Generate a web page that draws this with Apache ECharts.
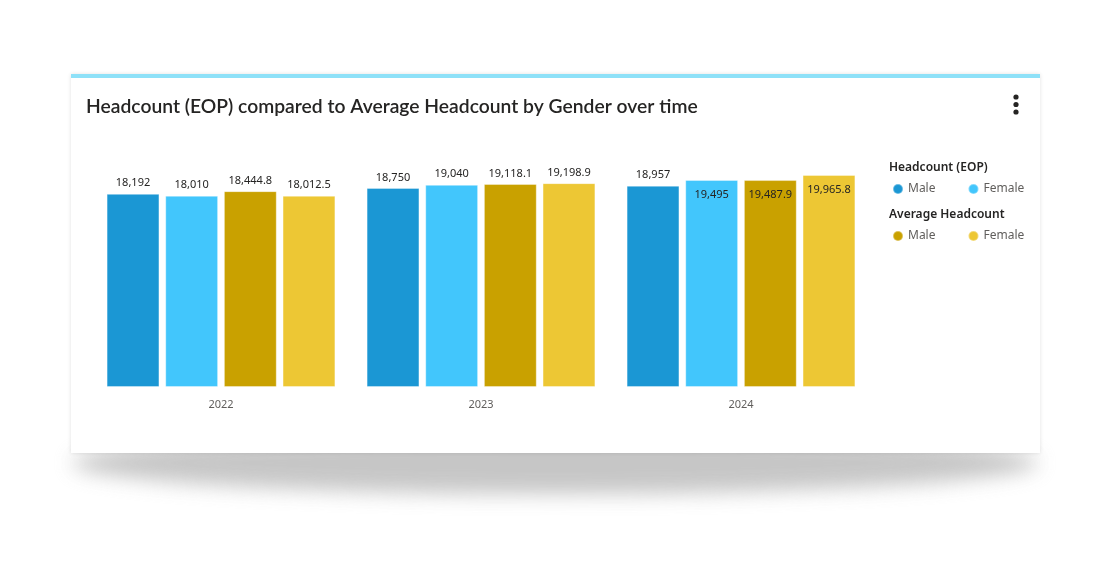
<!DOCTYPE html>
<html>
<head>
<meta charset="utf-8">
<script src="https://cdn.jsdelivr.net/npm/echarts@6/dist/echarts.min.js"></script>
<style>
  html, body { margin: 0; padding: 0; background: #ffffff; width: 1111px; height: 580px; overflow: hidden; }
  #shadow { position: absolute; left: 72px; top: 432px; width: 966px; height: 62px; border-radius: 50%;
            background: #bdbdbd; filter: blur(10px); opacity: 0.85; }
  #card { position: absolute; left: 71px; top: 74px; width: 969px; height: 379px; background: #ffffff;
          box-shadow: 0 0 4px rgba(0,0,0,0.12); border-top: 4px solid #8ee1f8; box-sizing: border-box; }
  #chart { position: absolute; left: 0; top: 0; width: 1111px; height: 580px; }
</style>
</head>
<body>
<div id="shadow"></div>
<div id="card"></div>
<div id="chart"></div>
<script>
const categories = ['2022', '2023', '2024'];
const eopMale = [18192, 18750, 18957];
const eopFemale = [18010, 19040, 19495];
const avgMale = [18444.8, 19118.1, 19487.9];
const avgFemale = [18012.5, 19198.9, 19965.8];

const colors = ['#1b97d4', '#42c6fc', '#c9a100', '#edc734'];
const fmtInt = v => v.toLocaleString('en-US', { maximumFractionDigits: 0 });
const fmtDec = v => v.toLocaleString('en-US', { minimumFractionDigits: 1, maximumFractionDigits: 1 });

const seriesDefs = [
  { name: 'Headcount (EOP) · Male', data: eopMale, fmt: fmtInt },
  { name: 'Headcount (EOP) · Female', data: eopFemale, fmt: fmtInt },
  { name: 'Average Headcount · Male', data: avgMale, fmt: fmtDec },
  { name: 'Average Headcount · Female', data: avgFemale, fmt: fmtDec }
];

const chart = echarts.init(document.getElementById('chart'), null, { renderer: 'canvas' });
const labelFont = { fontFamily: 'Noto Sans', fontSize: 11, color: '#252423' };

const series = seriesDefs.map((s, si) => ({
  type: 'bar',
  name: s.name,
  barGap: '11%',
  barCategoryGap: '12%',
  itemStyle: { color: colors[si], borderColor: 'rgba(255,255,255,0.35)', borderWidth: 1 },
  label: Object.assign({
    show: true, position: 'top', distance: 5,
    formatter: p => s.fmt(p.value)
  }, labelFont),
  data: s.data.map((v, i) => (i === 2 && si > 0)
    ? { value: v, label: { position: 'insideTop', distance: 9 } }
    : v)
}));

const legendCommon = {
  orient: 'horizontal', icon: 'circle', itemWidth: 10, itemHeight: 10, itemGap: 32,
  textStyle: { fontFamily: 'Noto Sans', fontSize: 12, color: '#605e5c' },
  formatter: name => name.split(' · ')[1]
};

chart.setOption({
  animation: false,
  title: {
    text: 'Headcount (EOP) compared to Average Headcount by Gender over time',
    left: 81, top: 92,
    textStyle: { fontFamily: 'Lato', fontSize: 19.3, fontWeight: 600, color: '#252423' }
  },
  legend: [
    Object.assign({ left: 887, top: 178, data: [seriesDefs[0].name, seriesDefs[1].name] }, legendCommon),
    Object.assign({ left: 887, top: 225, data: [seriesDefs[2].name, seriesDefs[3].name] }, legendCommon)
  ],
  grid: { left: 91, right: 1111 - 871, top: 153.4, bottom: 580 - 387 },
  xAxis: {
    type: 'category', data: categories,
    axisLine: { show: false }, axisTick: { show: false },
    axisLabel: { fontFamily: 'Noto Sans', fontSize: 11, color: '#605e5c', margin: 12 }
  },
  yAxis: { type: 'value', min: 0, max: 22000, show: false, splitLine: { show: false } },
  graphic: [
    { type: 'text', left: 889, top: 162, style: { text: 'Headcount (EOP)', font: '600 12px "Noto Sans"', fill: '#252423' } },
    { type: 'text', left: 889, top: 209, style: { text: 'Average Headcount', font: '600 12px "Noto Sans"', fill: '#252423' } },
    { type: 'circle', shape: { cx: 1016, cy: 97, r: 2.6 }, style: { fill: '#252423' } },
    { type: 'circle', shape: { cx: 1016, cy: 104.5, r: 2.6 }, style: { fill: '#252423' } },
    { type: 'circle', shape: { cx: 1016, cy: 112, r: 2.6 }, style: { fill: '#252423' } }
  ],
  series: series
});
</script>
</body>
</html>
